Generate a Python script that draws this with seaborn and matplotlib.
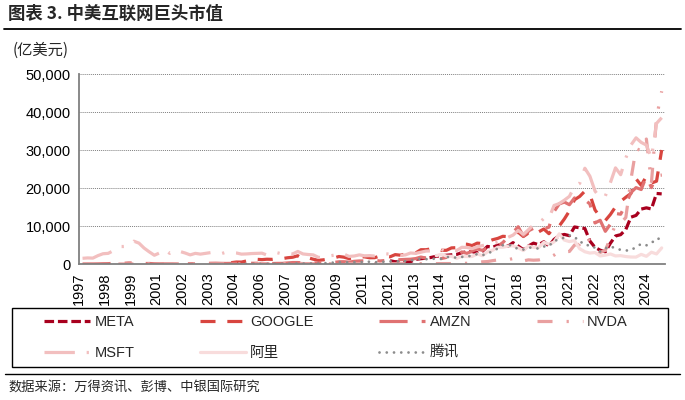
import pandas as pd
import matplotlib
matplotlib.use("Agg")
import matplotlib.pyplot as plt
from matplotlib.lines import Line2D
from matplotlib.patches import Rectangle
from matplotlib.ticker import FuncFormatter
import seaborn as sns

# ------------------------------------------------------------------ #
# Market cap of the US / China internet giants, quarter-end, 亿美元.
# Every list ends at 2025Q3 and starts at the company's first quarter.
# ------------------------------------------------------------------ #
quarters = pd.date_range("1997-06-30", "2025-09-30", freq="QE")

meta = [850, 590, 720,
        610, 600, 1230, 1390, 1550, 1720, 2030, 2180, 2300, 2420, 2530, 2960,
        3240, 3270, 2930, 3330, 4630, 4380, 4960, 5120, 4640, 5620, 4740, 3760,
        4750, 5490, 5080, 5850, 4750, 6470, 7460, 7780, 7450, 9750, 9520, 9350,
        6050, 4360, 3640, 3200, 5480, 7370, 7720, 9100, 12320, 12790, 14450, 14780,
        14480, 18560, 18450]

google = [350, 520,
          500, 800, 900, 1230, 1150, 1260, 1220, 1400, 1420, 1640, 1780, 2170,
          1380, 1650, 1260, 970, 1100, 1330, 1570, 1970, 1800, 1420, 1680, 1890,
          1890, 1640, 1660, 2090, 2080, 1890, 2470, 2320, 2630, 2920, 2920, 3760,
          3760, 3970, 4000, 3600, 3600, 4240, 4300, 5280, 5200, 4850, 5490, 5390,
          5840, 6380, 6730, 7290, 7190, 7830, 8370, 7230, 8140, 7500, 8450, 9210,
          7980, 9640, 9990, 11850, 13960, 16910, 17780, 19170, 18260, 14230, 12380, 11440,
          13030, 15030, 16480, 17570, 18550, 22420, 20700, 23090,
          21300, 21800, 30000]

amzn = [5, 12, 15,
        35, 70, 90, 180, 270, 180, 280, 260, 230, 130, 140, 55,
        35, 50, 22, 40, 58, 62, 60, 72, 100, 145, 190, 210,
        170, 150, 165, 180, 150, 135, 190, 195, 150, 160, 130, 160,
        165, 280, 380, 380, 300, 310, 300, 220, 270, 360, 410, 580,
        600, 490, 700, 800, 820, 930, 980, 790, 920, 1030, 1150, 1140,
        1210, 1260, 1430, 1830, 1550, 1500, 1490, 1440, 1730, 2030, 2400, 3170,
        2800, 3400, 3970, 3580, 4260, 4650, 4650, 5650, 7000, 8300, 9800, 7350,
        8700, 9400, 8600, 9200, 9700, 13800, 15800, 16300, 15600, 17400, 16600, 16900,
        15800, 10800, 11500, 8600, 10500, 13300, 13100, 15700, 18800, 20100, 19600, 23100,
        20100, 23300, 23400]

nvda = [6, 8, 10, 16, 30, 45, 55, 25, 45, 65, 40, 95, 58, 25, 14, 18,
        42, 38, 27, 38, 40, 35, 25, 40, 47, 45, 52, 63, 97, 73, 105, 135,
        110, 180, 200, 190, 110, 100, 60, 43, 55, 60, 83, 100, 100, 100, 66, 87,
        115, 97, 72, 80, 93, 85, 82, 76, 79, 84, 93, 94, 103, 105, 100, 107,
        115, 108, 130, 180, 190, 250, 370, 570, 640, 880, 1070, 1170,
        1110, 1440, 1700, 810, 1090, 1000, 1060, 1440, 1620, 2330, 3330, 3230,
        3300, 4990, 5170, 7350, 6050, 3790, 3040, 3600, 6860, 10450, 10740, 12230,
        22240, 30390, 29790, 32890, 21300, 38500, 45460]

msft = [1500, 1600, 1550,
        2200, 2700, 2800, 3500, 4600, 4600, 4700, 6000, 5500, 4200, 3200, 2300,
        2900, 3900, 2800, 3600, 3300, 2900, 2400, 2800, 2600, 2800, 3000, 2950,
        2700, 3100, 3000, 2900, 2600, 2650, 2750, 2800, 2850, 2350, 2700, 2950,
        2650, 2800, 2650, 3300, 2650, 2500, 2400, 1750, 1650, 2100, 2300, 2700,
        2600, 2000, 2100, 2400, 2150, 2200, 2100, 2200, 2700, 2600, 2500, 2250,
        2400, 2900, 2800, 3100, 3400, 3450, 3800, 3850, 3300, 3550, 3550, 4400,
        4350, 4050, 4500, 4850, 5100, 5300, 5750, 6600, 7000, 7600, 8800, 7800,
        9000, 10300, 10600, 12000, 12000, 15400, 15900, 16800, 17800, 20400, 21200, 25200,
        23100, 19200, 17400, 17900, 21400, 25300, 23500, 27900, 31300, 33200, 32000, 31300,
        27900, 37000, 38500]

baba = [2190, 2560,
        2060, 2040, 1470, 2010, 1960, 1980, 2650, 2200, 3180, 3610, 4420, 4410,
        4690, 4790, 4270, 3540, 4730, 4380, 4330, 5690, 5210, 5800, 7940, 6300,
        5900, 6150, 4020, 3220, 2880, 3010, 2120, 2330, 2640, 2120, 2200, 1960,
        1840, 1820, 2530, 2020, 3100, 2650, 4230]

tencent = [10, 12,
           13, 14, 20, 25, 28, 40, 50, 80, 60, 90, 150, 140, 120, 130, 140, 115,
           180, 270, 380, 500, 470, 460, 500, 500, 550, 600, 490, 460,
           640, 700, 740, 700, 750, 940, 1160, 1470, 1250, 1400, 1370, 1350,
           1810, 1870, 1620, 1850, 2030, 2150, 2620, 2310, 2700, 3390, 4060, 4930,
           5050, 4770, 3860, 3790, 4310, 4300, 4030, 4600, 4680, 6160, 6340, 6980,
           7560, 7200, 5710, 5630, 4430, 4350, 3250, 4100, 4700, 4060, 3740, 3550,
           3600, 4490, 5280, 4900, 5800, 5900, 7800]

companies = ["META", "GOOGLE", "AMZN", "NVDA", "MSFT", "阿里", "腾讯"]
series = [meta, google, amzn, nvda, msft, baba, tencent]

xtick_labels = ["1997", "1998", "1999", "2001", "2002", "2003", "2004", "2006",
                "2007", "2008", "2009", "2011", "2012", "2013", "2014", "2016",
                "2017", "2018", "2019", "2021", "2022", "2023", "2024"]
yticks = [0, 10000, 20000, 30000, 40000, 50000]

palette = {"META": "#A8001E", "GOOGLE": "#D8453F", "AMZN": "#E07272",
           "NVDA": "#E9A0A0", "MSFT": "#F2BFBF", "阿里": "#F8DCDC", "腾讯": "#8C8C8C"}
dashes = {"META": (3.0, 1.2), "GOOGLE": (4.7, 3.7), "AMZN": (8.8, 4.4, 2.2, 4.4),
          "NVDA": (4.7, 4.4, 0.7, 4.4), "MSFT": (9.5, 3.7, 0.7, 3.7),
          "阿里": "", "腾讯": (0.01, 2.6)}

# long format table for seaborn
frames = []
for name, vals in zip(companies, series):
    frames.append(pd.DataFrame({"date": quarters[-len(vals):], "value": vals, "company": name}))
df = pd.concat(frames, ignore_index=True)

sns.set_style("white")
plt.rcParams["font.family"] = ["Liberation Sans", "Noto Sans CJK SC"]
cjk = ["Noto Sans CJK SC", "Liberation Sans"]

fig = plt.figure(figsize=(6.85, 4.0), dpi=100)
ax = fig.add_axes([79 / 685, 1 - 264 / 400, 586 / 685, 190 / 400])

sns.lineplot(data=df, x="date", y="value", hue="company", style="company",
             hue_order=companies, style_order=companies, palette=palette,
             dashes=dashes, linewidth=2.3, legend=False, ax=ax)
for line in ax.lines:
    if line.get_color() == palette["腾讯"]:
        line.set_dash_capstyle("round")
        line.set_linewidth(2.0)

# axes
ax.set_ylim(0, 50000)
ax.set_yticks(yticks)
ax.yaxis.set_major_formatter(FuncFormatter(lambda v, p: f"{v:,.0f}"))
start = pd.Timestamp("1997-04-28")
ax.set_xlim(start, pd.Timestamp("2025-11-28"))
ax.set_xticks([start + pd.Timedelta(days=459 * k) for k in range(len(xtick_labels))])
ax.set_xticklabels(xtick_labels, rotation=90)
ax.set_xlabel("")
ax.set_ylabel("")
ax.yaxis.grid(True, color="#808080", linestyle=(0, (1, 1)), linewidth=0.7)
ax.xaxis.grid(False)
for s in ["top", "right"]:
    ax.spines[s].set_visible(False)
for s in ["left", "bottom"]:
    ax.spines[s].set_color("#808080")
    ax.spines[s].set_linewidth(1.3)
ax.tick_params(axis="both", direction="out", length=4, width=1, color="#808080",
               labelsize=10.5, labelcolor="black", pad=2)

# legend in a drawn frame, filled row by row (matplotlib fills columns first)
handles = {}
for name in companies:
    ls = "-" if dashes[name] == "" else (0, dashes[name])
    h = Line2D([], [], color=palette[name], linewidth=2.3, linestyle=ls)
    if name == "腾讯":
        h.set_dash_capstyle("round")
        h.set_linewidth(2.0)
    handles[name] = h
leg_order = ["META", "MSFT", "GOOGLE", "阿里", "AMZN", "腾讯", "NVDA"]
fig.add_artist(Rectangle((12 / 685, 1 - 367 / 400), 656 / 685, 59 / 400,
                         transform=fig.transFigure, fill=False, edgecolor="black", linewidth=1))
fig.legend([handles[n] for n in leg_order], leg_order, ncol=4, loc="upper left",
           bbox_to_anchor=(44 / 685, 1 - 315 / 400), frameon=False, borderpad=0,
           borderaxespad=0, handlelength=3.15, handletextpad=0.3,
           columnspacing=4.5, labelspacing=1.15,
           prop={"size": 10.5, "family": ["Liberation Sans", "Noto Sans CJK SC"]})

# title, unit, rules and source
fig.text(8 / 685, 1 - 14 / 400, "图表 3. 中美互联网巨头市值", family=cjk,
         fontsize=12.5, fontweight="bold", va="center", ha="left")
fig.add_artist(Line2D([4 / 685, 681 / 685], [1 - 29 / 400] * 2, color="black", linewidth=1.3))
fig.text(13 / 685, 1 - 50 / 400, "(亿美元)", family=cjk, fontsize=11, va="center", ha="left")
fig.add_artist(Line2D([5 / 685, 680 / 685], [1 - 374 / 400] * 2, color="black", linewidth=1))
fig.text(8 / 685, 1 - 387 / 400, "数据来源：万得资讯、彭博、中银国际研究", family=cjk,
         fontsize=9.5, style="italic", va="center", ha="left")

fig.savefig("out.png", dpi=100)
